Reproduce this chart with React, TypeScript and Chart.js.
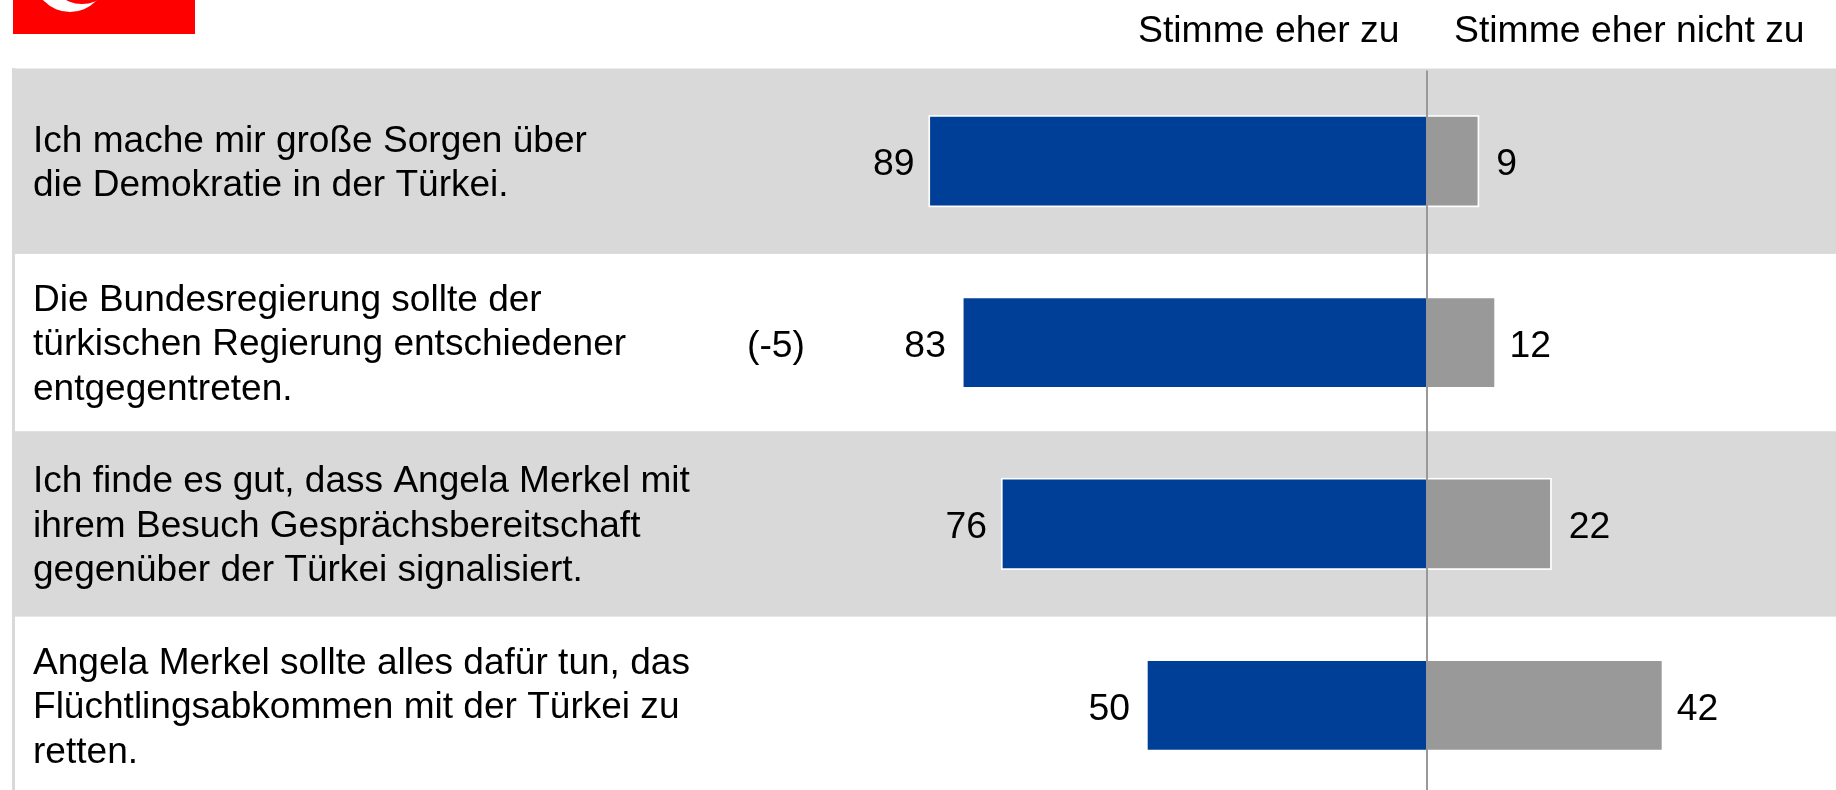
import React, { useEffect, useRef } from "react";
import { Chart, registerables } from "chart.js";

Chart.register(...registerables);

const categories = [
  ["Ich mache mir große Sorgen über", "die Demokratie in der Türkei."],
  ["Die Bundesregierung sollte der", "türkischen Regierung entschiedener", "entgegentreten."],
  ["Ich finde es gut, dass Angela Merkel mit", "ihrem Besuch Gesprächsbereitschaft", "gegenüber der Türkei signalisiert."],
  ["Angela Merkel sollte alles dafür tun, das", "Flüchtlingsabkommen mit der Türkei zu", "retten."],
];
const agree = [89, 83, 76, 50];
const disagree = [9, 12, 22, 42];
const changes = ["", "(-5)", "", ""];
const headerAgree = "Stimme eher zu";
const headerDisagree = "Stimme eher nicht zu";

const FONT = '"Liberation Sans", Arial, sans-serif';
const FONT_SIZE = 37.33;
const LABEL_FONT_SIZE = 37.05;
const LINE_HEIGHT = 44.5;
const BLUE = "#003f98";
const GREY = "#999999";
const BAND = "#d9d9d9";

const decorations = {
  id: "decorations",
  beforeDraw(chart: any) {
    const { ctx, width, scales } = chart;
    const y = scales.y;
    const step = y.getPixelForValue(1) - y.getPixelForValue(0);
    ctx.save();
    ctx.fillStyle = "#ffffff";
    ctx.fillRect(0, 0, width, chart.height);
    ctx.fillStyle = BAND;
    ctx.fillRect(12, 68, 3, chart.height);
    categories.forEach((_, i) => {
      if (i % 2 === 0) {
        const c = y.getPixelForValue(i);
        const half = step / 2 + 2;
        ctx.fillRect(12, c - half, width - 12, half * 2);
      }
    });
    // logo
    ctx.fillStyle = "#ff0000";
    ctx.fillRect(13, 0, 182, 34);
    ctx.beginPath();
    ctx.rect(13, 0, 182, 34);
    ctx.clip();
    ctx.fillStyle = "#ffffff";
    ctx.beginPath();
    ctx.arc(70, -24.4, 36.4, 0, Math.PI * 2);
    ctx.fill();
    ctx.fillStyle = "#ff0000";
    ctx.beginPath();
    ctx.arc(82, -30, 34, 0, Math.PI * 2);
    ctx.fill();
    ctx.restore();
  },
  beforeDatasetsDraw(chart: any) {
    const { ctx } = chart;
    ctx.save();
    ctx.strokeStyle = "#ffffff";
    ctx.lineWidth = 2;
    categories.forEach((_, i) => {
      if (i % 2 === 0) {
        const a = chart.getDatasetMeta(0).data[i];
        const b = chart.getDatasetMeta(1).data[i];
        ctx.strokeRect(a.x - 1, a.y - a.height / 2 - 1, b.x - a.x + 2, a.height + 2);
      }
    });
    ctx.restore();
  },
  afterDraw(chart: any) {
    const { ctx, scales } = chart;
    ctx.save();
    ctx.fillStyle = "#000000";
    ctx.textBaseline = "middle";
    categories.forEach((lines, i) => {
      const a = chart.getDatasetMeta(0).data[i];
      const b = chart.getDatasetMeta(1).data[i];
      const white = i % 2 === 1;
      ctx.font = `${FONT_SIZE}px ${FONT}`;
      ctx.textAlign = "right";
      ctx.fillText(String(agree[i]), a.x - (white ? 18 : 16), a.y + 4);
      ctx.textAlign = "left";
      ctx.fillText(String(disagree[i]), b.x + (white ? 15.5 : 19), b.y + 4);
      if (changes[i]) {
        ctx.fillText(changes[i], 747, a.y + 4);
      }
      const c = scales.y.getPixelForValue(i);
      ctx.font = `${LABEL_FONT_SIZE}px ${FONT}`;
      lines.forEach((line, j) => {
        ctx.fillText(line, 33, c + (j - (lines.length - 1) / 2) * LINE_HEIGHT + 2.5);
      });
    });
    ctx.font = `${FONT_SIZE}px ${FONT}`;
    ctx.fillText(headerAgree, 1138, 32);
    ctx.fillText(headerDisagree, 1454, 32);
    ctx.restore();
  },
};

export default function App() {
  const ref = useRef<HTMLCanvasElement>(null);
  useEffect(() => {
    const chart = new Chart(ref.current!, {
      type: "bar",
      data: {
        labels: categories.map((l) => l.join(" ")),
        datasets: [
          { label: headerAgree, data: agree.map((v) => -v), backgroundColor: BLUE, barThickness: 88, borderWidth: 0 },
          { label: headerDisagree, data: disagree, backgroundColor: GREY, barThickness: 88, borderWidth: 0 },
        ],
      },
      options: {
        indexAxis: "y",
        animation: false,
        responsive: false,
        maintainAspectRatio: false,
        layout: { padding: { left: 12, top: 70.5, right: 0, bottom: 0 } },
        plugins: { legend: { display: false }, tooltip: { enabled: false } },
        scales: {
          x: {
            stacked: true,
            min: -253.6,
            max: 73.3,
            ticks: { display: false, stepSize: 10 },
            border: { display: false },
            grid: {
              z: 1,
              drawTicks: false,
              lineWidth: 2,
              color: (c: any) => (c.tick && c.tick.value === 0 ? "#999999" : "rgba(0,0,0,0)"),
            },
          },
          y: {
            stacked: true,
            position: "left",
            border: { display: false },
            grid: { display: false, drawTicks: false },
            ticks: { display: false },
          },
        },
      },
      plugins: [decorations],
    } as any);
    return () => chart.destroy();
  }, []);
  return (
    <div style={{ position: "fixed", left: 0, top: 0, width: 1836, height: 790, overflow: "hidden", background: "#fff" }}>
      <canvas ref={ref} width={1836} height={796} style={{ display: "block" }} />
    </div>
  );
}
